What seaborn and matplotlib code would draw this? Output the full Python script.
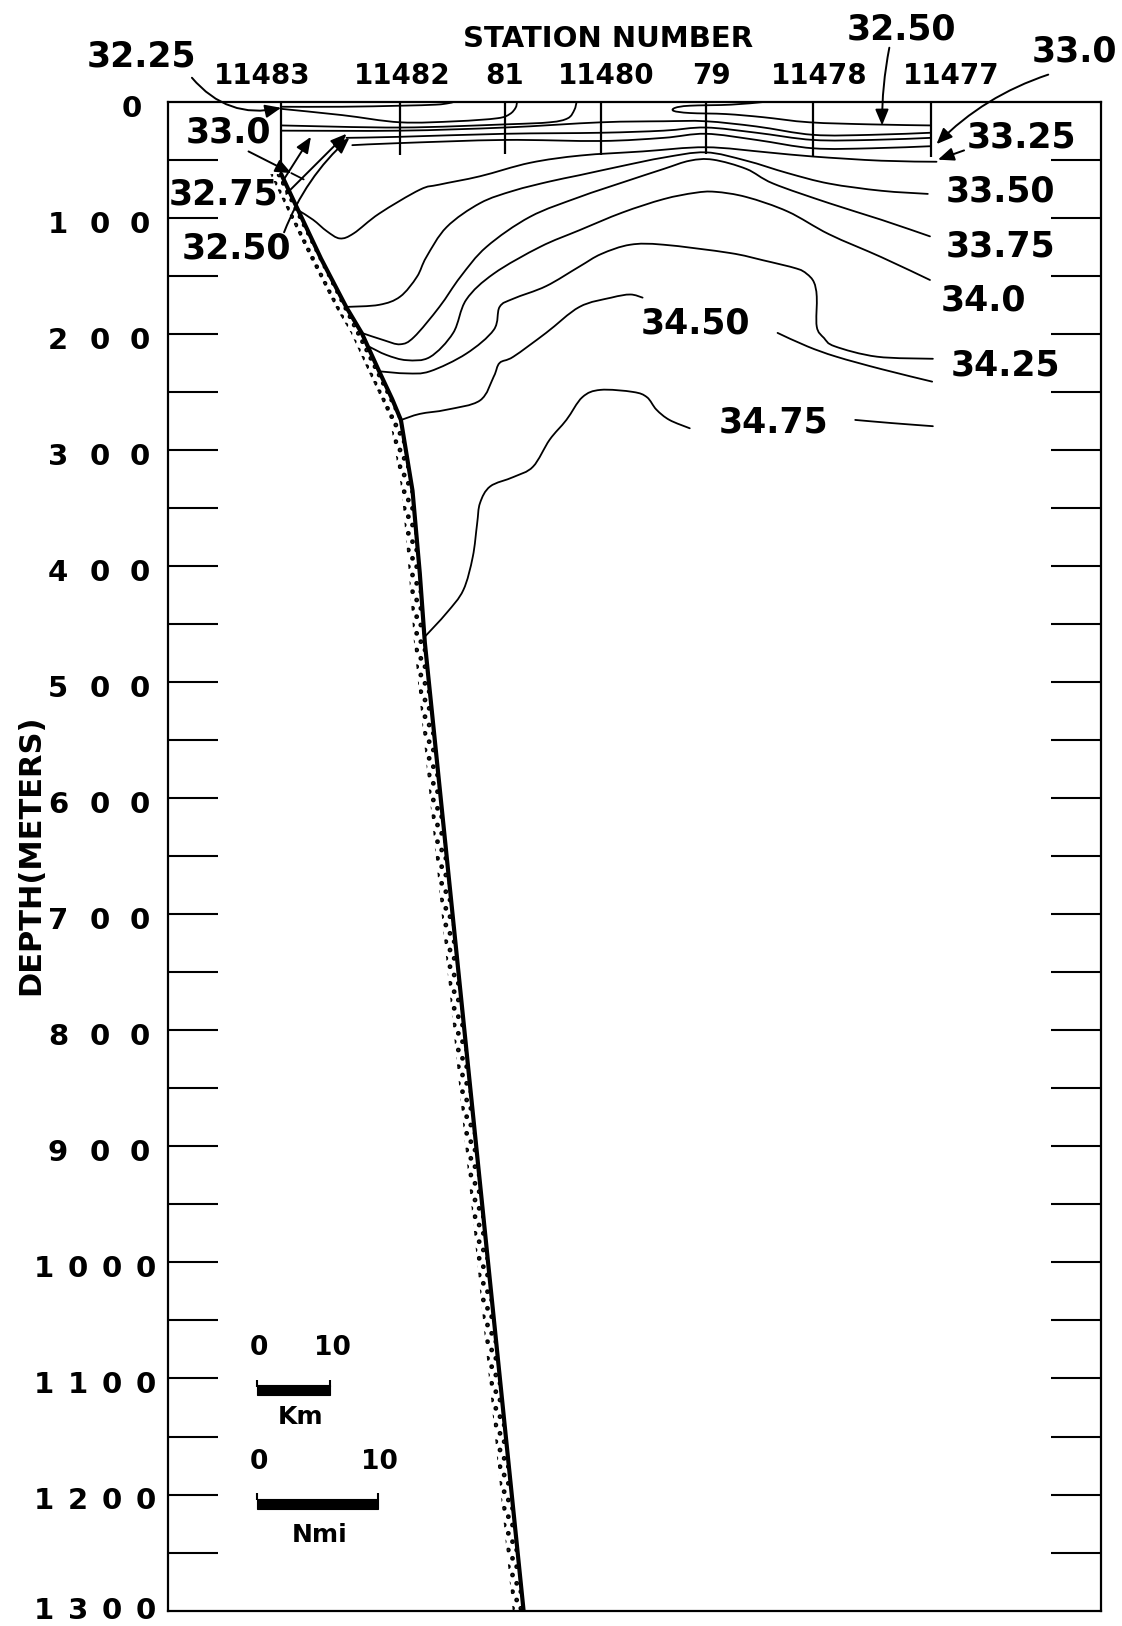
import numpy as np
import matplotlib
matplotlib.use("Agg")
import matplotlib.pyplot as plt
import matplotlib.transforms as mtransforms
from matplotlib.path import Path
from matplotlib.patches import PathPatch, Rectangle
import seaborn as sns

# ---------------------------------------------------------------------------
# Section geometry: distance along section (km) and depth (m)
# ---------------------------------------------------------------------------
X_MAX_KM = 128.6
DEPTH_MAX = 1300

STATION_IDS = ["11483", "11482", "81", "11480", "79", "11478", "11477"]
STATION_KM = [15.6, 32.0, 46.4, 59.7, 74.1, 88.9, 105.1]
CAST_BOTTOM_M = [62, 46, 45, 46, 45, 47, 47]
STATION_LABEL_KM = [13.0, 32.3, 46.4, 60.4, 74.9, 89.7, 107.9]

# Sea floor along the section
FLOOR_KM = [15.6, 17.7, 21.1, 24.6, 26.7, 29.1, 30.9, 32.1, 33.7, 34.7, 35.4, 49.0]
FLOOR_M = [62, 90, 135, 177, 199, 232, 256, 274, 335, 406, 466, 1300]

# Near-surface isohalines (inshore)
S3225_KM = [15.6, 24.0, 32.0, 36.9, 38.6, 39.3]
S3225_M = [4.0, 4.0, 3.1, 2.2, 1.0, 0.0]
S3250_IN_KM = [15.6, 24.0, 32.0, 39.7, 45.4, 47.1, 47.9, 48.1]
S3250_IN_M = [5.8, 11.2, 17.4, 16.5, 13.9, 10.3, 4.9, 0.0]
S3275_IN_KM = [15.6, 32.0, 46.4, 52.6, 55.1, 56.0, 56.3]
S3275_IN_M = [20.1, 21.9, 19.2, 17.4, 13.9, 6.7, 0.0]

# Offshore low-salinity lens and upper layers
S3250_OFF_KM = [81.9, 77.6, 71.9, 69.9, 69.7, 71.9, 76.9, 82.0, 88.4, 96.9, 105.1]
S3250_OFF_M = [0.0, 2.2, 3.1, 4.9, 7.6, 9.4, 10.3, 13.0, 17.4, 19.2, 20.1]
UPPER1_KM = [15.6, 32.0, 46.4, 59.7, 68.3, 74.1, 81.1, 88.9, 96.9, 105.1]
UPPER1_M = [24.6, 24.6, 21.9, 17.4, 16.5, 16.5, 21.0, 28.2, 28.2, 26.4]
UPPER2_KM = [24.6, 32.0, 46.4, 59.7, 68.3, 74.1, 81.1, 88.9, 96.9, 105.1]
UPPER2_M = [30.8, 29.9, 27.3, 26.4, 24.6, 21.9, 26.4, 32.6, 32.6, 30.8]
UPPER3_KM = [25.4, 32.0, 46.4, 59.7, 68.3, 74.1, 81.1, 88.9, 96.9, 105.1]
UPPER3_M = [37.1, 35.3, 32.6, 33.5, 30.8, 27.3, 32.6, 39.8, 39.8, 38.0]

# Deeper isohalines
S3325_KM = [18.0, 20.0, 21.9, 23.7, 25.6, 29.1, 34.7, 37.4, 43.0, 49.9, 56.9,
            65.4, 74.1, 82.6, 88.9, 98.3, 105.9]
S3325_M = [93.4, 101.4, 111.3, 117.5, 113.1, 96.1, 75.5, 71.1, 63.9, 52.3, 46.0,
           42.5, 38.9, 43.3, 46.9, 50.5, 51.4]
S3350_KM = [24.6, 29.1, 32.0, 34.3, 35.6, 38.4, 43.0, 47.6, 52.6, 56.7, 62.6,
            68.3, 74.1, 79.7, 85.4, 91.1, 98.3, 104.7]
S3350_M = [176.5, 174.7, 167.6, 150.6, 133.6, 107.7, 87.1, 76.4, 68.4, 63.0, 55.0,
           47.8, 43.3, 50.5, 61.2, 70.2, 76.4, 79.1]
S3375_KM = [26.7, 29.7, 32.0, 33.9, 37.4, 40.3, 43.9, 49.9, 56.7, 62.6, 68.3,
            71.9, 75.1, 79.7, 83.4, 91.1, 98.3, 105.0]
S3375_M = [198.9, 205.1, 208.7, 202.5, 176.5, 150.6, 124.7, 98.8, 81.8, 69.3, 57.6,
           50.5, 49.6, 57.6, 70.2, 87.1, 101.4, 115.7]
S3400_KM = [27.7, 30.1, 32.9, 36.1, 39.3, 41.1, 44.9, 51.3, 56.7, 62.6, 68.3,
            72.6, 75.4, 79.7, 85.4, 91.1, 98.3, 105.0]
S3400_M = [210.7, 217.9, 222.4, 219.7, 198.9, 170.3, 147.8, 124.7, 110.4, 95.2, 83.6,
           78.2, 77.3, 81.8, 94.3, 113.9, 133.6, 153.3]
S3425_KM = [29.1, 32.9, 36.1, 41.1, 44.9, 45.7, 47.6, 52.1, 56.7, 59.7, 63.7, 68.3,
            77.4, 82.0, 86.6, 88.0, 89.0, 89.4, 89.4, 90.4, 91.9, 97.7, 105.4]
S3425_M = [232.0, 233.8, 232.0, 216.8, 196.2, 176.5, 169.4, 158.6, 141.7, 130.9, 122.9, 122.9,
           130.0, 136.3, 143.4, 147.9, 155.1, 167.6, 193.5, 203.3, 210.5, 219.4, 221.2]
S3450_A_KM = [32.1, 34.7, 38.4, 43.0, 44.9, 45.7, 47.6, 52.1, 56.7, 61.1, 63.7, 65.4]
S3450_A_M = [274.0, 268.7, 265.1, 257.1, 236.4, 224.8, 219.4, 198.9, 176.5, 168.5, 165.8, 168.5]
S3450_B_KM = [84.0, 88.1, 92.1, 98.3, 105.3]
S3450_B_M = [198.9, 210.5, 219.4, 230.1, 240.9]
S3475_A_KM = [35.4, 38.4, 40.7, 42.0, 42.6, 43.0, 44.4, 47.6, 50.3, 52.6, 54.9, 57.1,
              59.6, 64.1, 66.0, 67.3, 69.1, 71.9]
S3475_A_M = [460.7, 440.2, 420.5, 391.9, 363.3, 345.5, 331.2, 323.1, 314.2, 290.9, 273.9, 254.3,
             248.0, 249.8, 254.3, 265.0, 273.9, 281.1]
S3475_B_KM = [94.7, 99.7, 105.4]
S3475_B_M = [273.9, 276.6, 279.3]

# Isohaline labels: text, km, depth
LABEL_TEXT = ["33.25", "33.50", "33.75", "34.0", "34.25", "34.50", "34.75",
              "32.25", "33.0", "32.75", "32.50", "32.50", "33.0"]
LABEL_KM = [117.6, 114.7, 114.7, 112.3, 115.4, 72.7, 83.4,
            -3.6, 8.4, 7.7, 9.4, 101.0, 124.9]
LABEL_M = [30.8, 77.4, 124.7, 171.2, 226.6, 190.8, 275.7,
           -38.9, 26.4, 80.0, 126.5, -63.0, -43.3]

# Pointer arrows from labels: start km, start m, end km, end m, curvature
ARROW_X0 = [3.3, 11.1, 15.7, 16.3, 16.0, 99.4, 121.3, 109.7]
ARROW_Y0 = [-21.0, 42.5, 69.3, 79.1, 112.2, -46.9, -23.7, 41.6]
ARROW_X1 = [15.6, 17.0, 19.7, 24.6, 25.0, 98.4, 105.9, 106.1]
ARROW_Y1 = [4.9, 61.2, 29.9, 27.3, 30.8, 20.1, 36.2, 49.6]
ARROW_RAD = [0.3, 0.0, 0.0, 0.0, -0.12, 0.05, 0.12, 0.0]

DEPTH_TICKS = list(range(0, 1301, 100))
MINOR_TICKS = list(range(50, 1300, 50))

# Scale bars
KM_BAR_START, KM_BAR_LEN, KM_BAR_DEPTH = 12.3, 10.0, 1106
NMI_BAR_START, NMI_BAR_LEN, NMI_BAR_DEPTH = 12.3, 16.6, 1204


def smooth_path(xs, ys):
    """Catmull-Rom curve through the given vertices, as cubic Bezier segments."""
    p = np.column_stack([xs, ys]).astype(float)
    n = len(p)
    verts = [p[0]]
    codes = [Path.MOVETO]
    for i in range(n - 1):
        p0 = p[i - 1] if i > 0 else p[i]
        p1, p2 = p[i], p[i + 1]
        p3 = p[i + 2] if i + 2 < n else p[i + 1]
        verts += [p1 + (p2 - p0) / 6.0, p2 - (p3 - p1) / 6.0, p2]
        codes += [Path.CURVE4] * 3
    return Path(verts, codes)


sns.set_theme(style="white")
plt.rcParams["font.family"] = ["DejaVu Sans"]
plt.rcParams["hatch.linewidth"] = 2.2

W, H = 1122, 1626
fig = plt.figure(figsize=(W / 100, H / 100), dpi=100)
ax = fig.add_axes([0.1497, 0.0095, 0.8318, 0.9277])

# Stippled sediment band along the slope
fkm = np.array(FLOOR_KM)
ax.fill_betweenx(FLOOR_M, fkm - 1.5, fkm, facecolor="none", edgecolor="black",
                 hatch="..", linewidth=0)

# Sea floor
sns.lineplot(x=FLOOR_KM, y=FLOOR_M, sort=False, estimator=None, color="black",
             linewidth=3.0, ax=ax)

# Station casts
ax.vlines(STATION_KM, 0, CAST_BOTTOM_M, color="black", linewidth=1.6)

# Isohalines
segments = [
    (S3225_KM, S3225_M), (S3250_IN_KM, S3250_IN_M), (S3275_IN_KM, S3275_IN_M),
    (S3250_OFF_KM, S3250_OFF_M), (UPPER1_KM, UPPER1_M), (UPPER2_KM, UPPER2_M),
    (UPPER3_KM, UPPER3_M), (S3325_KM, S3325_M), (S3350_KM, S3350_M),
    (S3375_KM, S3375_M), (S3400_KM, S3400_M), (S3425_KM, S3425_M),
    (S3450_A_KM, S3450_A_M), (S3450_B_KM, S3450_B_M),
    (S3475_A_KM, S3475_A_M), (S3475_B_KM, S3475_B_M),
]
for xs, ys in segments:
    ax.add_patch(PathPatch(smooth_path(xs, ys), fill=False, edgecolor="black",
                           linewidth=1.3, capstyle="round", joinstyle="round"))

# 33.0 isohaline meeting the bottom near the shelf break
ax.plot([17.0, 18.7], [61.2, 66.6], color="black", linewidth=1.3)

ax.set_xlim(0, X_MAX_KM)
ax.set_ylim(DEPTH_MAX, 0)
ax.set_xlabel("")
ax.set_ylabel("")
ax.set_xticks([])
ax.set_yticks(MINOR_TICKS)
ax.tick_params(axis="y", which="both", direction="in", length=36, width=1.5,
               left=True, right=True, labelleft=False, labelright=False,
               color="black")
for sp in ax.spines.values():
    sp.set_visible(True)
    sp.set_color("black")
    sp.set_linewidth(1.6)

# Depth labels, spaced digit by digit
blend = mtransforms.blended_transform_factory(fig.transFigure, ax.transData)
digit_x = {1: [132], 3: [58, 100, 140], 4: [44, 78, 112, 146]}
for v in DEPTH_TICKS:
    s = str(v)
    if v == 0:
        yv = 6
    elif v == DEPTH_MAX:
        yv = v
    else:
        yv = v + 6
    for ch, xp in zip(s, digit_x[len(s)]):
        ax.text(xp / W, yv, ch, transform=blend, ha="center", va="center",
                fontsize=21, fontweight="bold", color="black", clip_on=False)

ax.text(31 / W, 649, "DEPTH(METERS)", transform=blend, rotation=90,
        ha="center", va="center", fontsize=22, fontweight="bold", color="black")

# Station numbers
for sid, xk in zip(STATION_IDS, STATION_LABEL_KM):
    ax.text(xk, -22.8, sid, ha="center", va="center", fontsize=20,
            fontweight="bold", color="black", clip_on=False)
ax.text(60.7, -54.1, "STATION NUMBER", ha="center", va="center", fontsize=21,
        fontweight="bold", color="black", clip_on=False)

# Isohaline labels
for t, xk, ym in zip(LABEL_TEXT, LABEL_KM, LABEL_M):
    ax.text(xk, ym, t, ha="center", va="center", fontsize=25, fontweight="bold",
            color="black", clip_on=False)

# Pointer arrows
for x0, y0, x1, y1, r in zip(ARROW_X0, ARROW_Y0, ARROW_X1, ARROW_Y1, ARROW_RAD):
    ax.annotate("", xy=(x1, y1), xytext=(x0, y0), annotation_clip=False,
                arrowprops=dict(arrowstyle="-|>,head_length=0.6,head_width=0.25",
                                color="black", lw=1.4, mutation_scale=16,
                                shrinkA=0, shrinkB=0,
                                connectionstyle=f"arc3,rad={r}"))

# Scale bars
bar_h = 8.5
for start, length, depth, unit, unit_y, num_y in [
        (KM_BAR_START, KM_BAR_LEN, KM_BAR_DEPTH, "Km", 1133, 1074),
        (NMI_BAR_START, NMI_BAR_LEN, NMI_BAR_DEPTH, "Nmi", 1235, 1172)]:
    ax.add_patch(Rectangle((start, depth), length, bar_h, facecolor="black",
                           edgecolor="black", linewidth=0.8))
    ax.vlines([start, start + length], depth - 5, depth + 1, color="black",
              linewidth=1.5)
    ax.text(start + 0.3, num_y, "0", ha="center", va="center", fontsize=19,
            fontweight="bold", color="black")
    ax.text(start + length + 0.3, num_y, "10", ha="center", va="center",
            fontsize=19, fontweight="bold", color="black")
    ax.text(start + length * 0.6 if unit == "Km" else start + length * 0.52,
            unit_y, unit, ha="center", va="center", fontsize=18,
            fontweight="bold", color="black")

fig.savefig("out.png", dpi=100, facecolor="white")
